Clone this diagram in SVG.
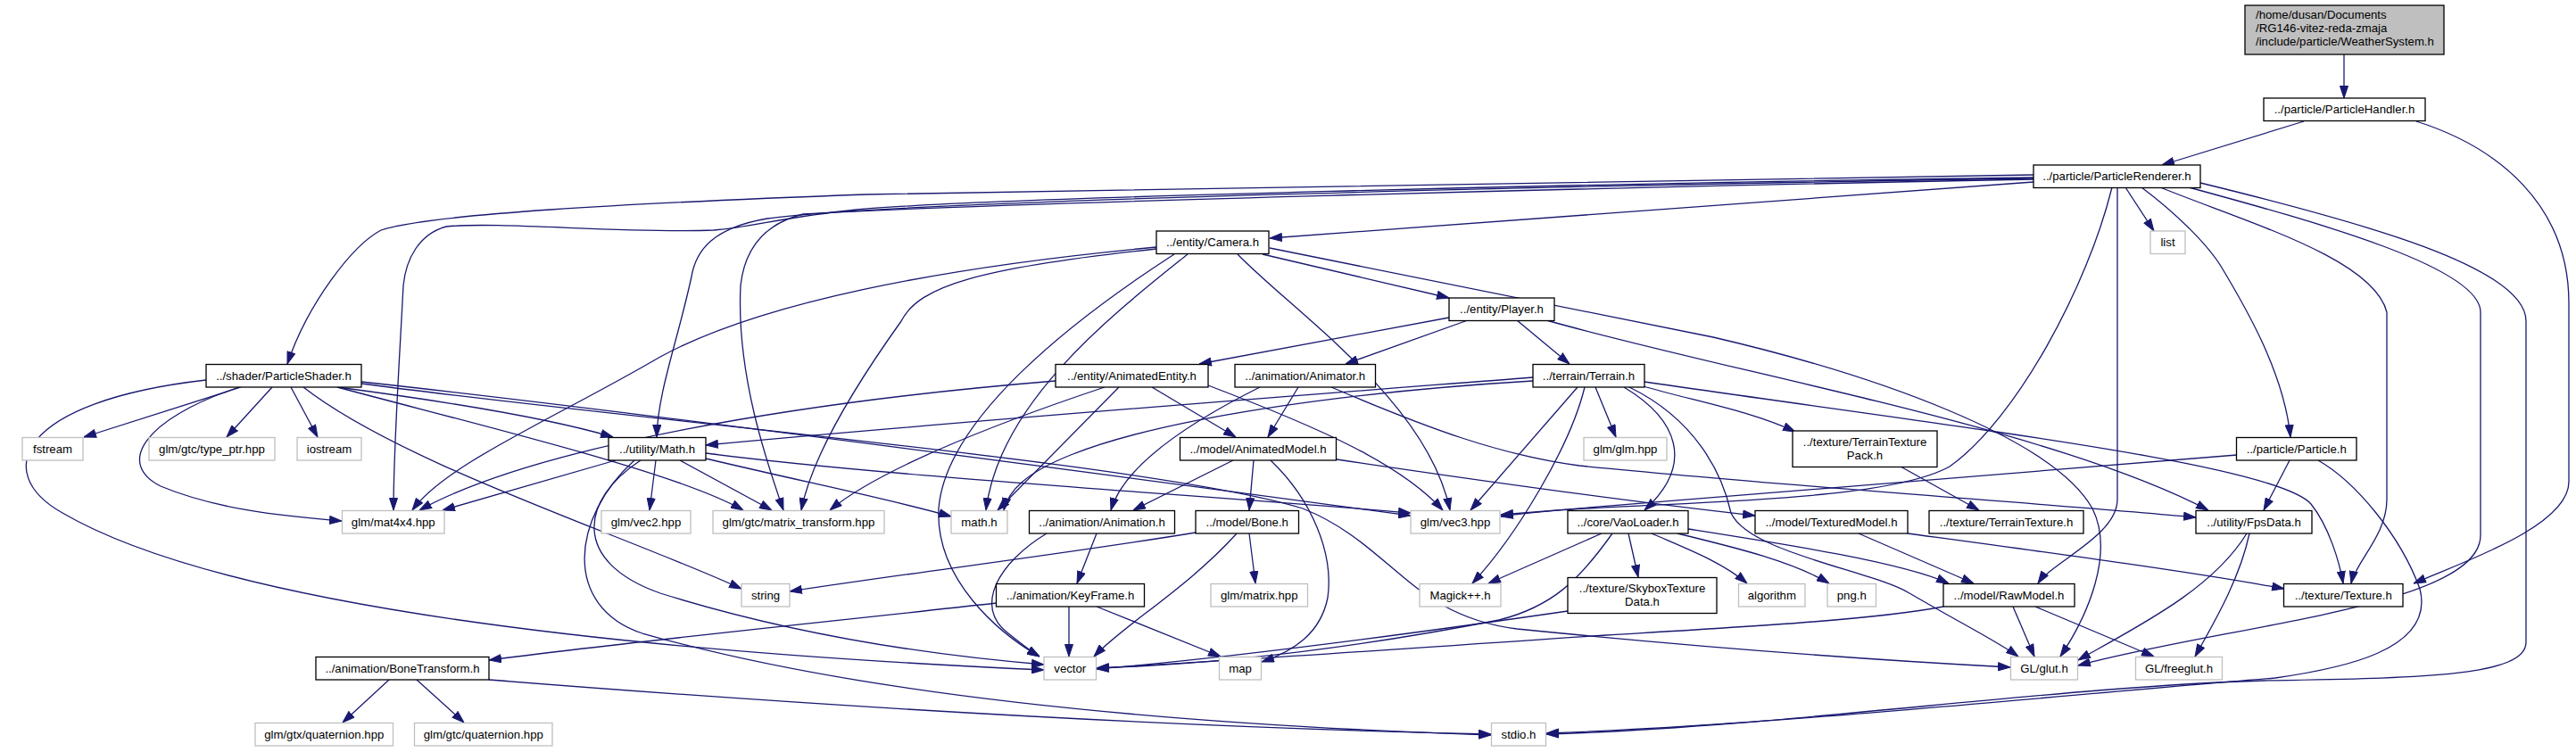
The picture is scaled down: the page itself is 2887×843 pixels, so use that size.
<svg xmlns="http://www.w3.org/2000/svg" width="2887" height="843" viewBox="0 0 2887 843">
<style>
.n rect{fill:#fff;stroke:#000;stroke-width:1.3}
.x rect{fill:#fff;stroke:#bfbfbf;stroke-width:1.3}
.r rect{fill:#bfbfbf;stroke:#000;stroke-width:1.3}
text{font-family:"Liberation Sans",Arial,Helvetica,sans-serif;font-size:13.2px;fill:#000;text-anchor:middle}
.l text{text-anchor:start}
#edges path{fill:none;stroke:#191970;stroke-width:1.3;marker-end:url(#a)}
</style>
<defs>
<marker id="a" markerWidth="14" markerHeight="10" refX="14" refY="5" orient="auto" markerUnits="userSpaceOnUse"><path d="M0.5,0.5 L14,5 L0.5,9.5 z" fill="#191970" stroke="#191970" stroke-width="1"/></marker>
</defs>
<rect width="2887" height="843" fill="#fff"/>
<g id="edges">
<path d="M2627,61 L2627,110"/>
<path d="M2582,136 L2423,185"/>
<path d="M2708,136 C2800,165 2879,230 2879,340 L2879,540 C2879,590 2760,630 2705,654"/>
<path d="M2279,204 L1423,267"/>
<path d="M2382,210 L2414,259"/>
<path d="M2279,196 L970,218 C700,228 480,240 427,258 C395,275 345,340 322,408"/>
<path d="M2279,199 C1800,205 1100,222 960,235 C880,243 840,255 800,258 C700,262 560,248 500,254 C470,262 455,290 452,320 C448,400 441,500 441,572"/>
<path d="M2279,200 C1800,207 1000,225 860,245 C800,255 780,280 775,310 C760,380 737,440 736,490"/>
<path d="M2279,201 C1800,210 1100,228 900,240 C860,250 835,275 830,320 C825,420 860,520 878,572"/>
<path d="M2367,210 C2340,320 2260,470 2185,523 C2100,570 1800,560 1682,579"/>
<path d="M2373,210 L2373,560 C2373,600 2300,630 2284,654"/>
<path d="M2400,210 C2440,240 2475,275 2490,300 C2520,350 2560,420 2567,490"/>
<path d="M2421,210 C2520,250 2660,290 2675,350 L2675,560 C2675,600 2640,630 2635,654"/>
<path d="M2453,210 C2600,250 2780,300 2780,350 L2780,600 C2780,680 2500,700 2329,746"/>
<path d="M2466,205 C2650,250 2831,300 2831,360 L2831,720 C2831,760 2700,760 2537,763 C2300,770 2000,815 1733,823"/>
<path d="M2598,516 C2640,540 2690,600 2712,660 C2730,730 2620,750 2550,760 C2300,780 2000,812 1733,822"/>
<path d="M2507,510 C2200,535 1900,560 1682,577"/>
<path d="M2566,516 L2537,572"/>
<path d="M1415,285 L1624,334"/>
<path d="M1296,277 C1050,300 850,340 740,400 C620,470 500,520 462,572"/>
<path d="M1296,279 C1100,300 1030,320 1010,360 C960,430 910,510 898,572"/>
<path d="M1331,285 C1250,350 1120,450 1105,572"/>
<path d="M1316,285 C1200,360 1060,470 1052,570 C1048,650 1120,710 1165,736"/>
<path d="M1387,285 C1450,350 1600,450 1625,572"/>
<path d="M1423,278 L1920,378 C2100,420 2300,490 2345,570 C2370,620 2340,690 2309,736"/>
<path d="M270,434 L94,490"/>
<path d="M305,434 L254,490"/>
<path d="M326,434 L356,490"/>
<path d="M378,434 C500,450 620,470 687,490"/>
<path d="M268,434 C160,470 130,520 180,545 C240,570 310,578 383,584"/>
<path d="M378,434 C550,480 760,530 833,572"/>
<path d="M340,434 C450,520 700,600 831,660"/>
<path d="M231,426 C20,450 -10,530 70,575 C250,680 700,730 1170,751"/>
<path d="M405,428 C700,460 1300,540 1581,578"/>
<path d="M405,430 C700,470 1300,520 1460,570 C1560,610 1580,690 1700,705 C1900,725 2100,740 2253,748"/>
<path d="M690,516 L496,572"/>
<path d="M735,516 L728,572"/>
<path d="M762,516 L865,572"/>
<path d="M791,514 C900,540 1000,560 1066,579"/>
<path d="M791,508 C1000,535 1350,555 1581,575"/>
<path d="M718,516 C650,560 640,630 740,665 C900,715 1050,735 1170,745"/>
<path d="M711,516 C640,580 630,680 720,710 C1000,790 1400,815 1671,824"/>
<path d="M1624,356 L1344,408"/>
<path d="M1645,359 L1508,408"/>
<path d="M1700,359 L1759,408"/>
<path d="M1733,359 C1950,420 2300,480 2475,572"/>
<path d="M1291,434 L1385,490"/>
<path d="M1183,427 C900,450 600,500 470,572"/>
<path d="M1238,434 C1100,480 980,530 930,572"/>
<path d="M1254,434 L1118,572"/>
<path d="M1354,432 C1480,480 1570,520 1617,572"/>
<path d="M1455,434 L1421,490"/>
<path d="M1412,434 C1340,470 1260,520 1245,572"/>
<path d="M1492,434 C1600,480 1680,510 1770,522 C2000,545 2300,565 2461,580"/>
<path d="M1718,423 C1500,440 1100,470 791,499"/>
<path d="M1718,427 C1500,440 1300,470 1200,510 C1150,530 1130,550 1125,572"/>
<path d="M1768,434 L1648,572"/>
<path d="M1776,434 C1760,500 1700,600 1650,654"/>
<path d="M1788,434 L1811,490"/>
<path d="M1820,434 C1880,470 1900,520 1843,572"/>
<path d="M1838,432 C1900,450 1960,460 2012,484"/>
<path d="M1843,428 C2200,480 2550,520 2590,565 C2610,590 2622,630 2626,654"/>
<path d="M1826,434 C1900,470 1930,530 1940,575 C1960,620 2100,640 2140,665 C2200,700 2240,720 2262,736"/>
<path d="M1382,516 L1270,572"/>
<path d="M1405,516 L1400,572"/>
<path d="M1424,516 C1470,560 1495,620 1488,670 C1480,710 1450,730 1414,742"/>
<path d="M1498,515 C1700,545 1850,565 1967,578"/>
<path d="M1229,598 L1207,654"/>
<path d="M1173,598 C1120,630 1090,680 1130,710 C1145,722 1155,730 1165,736"/>
<path d="M1340,597 C1200,620 1000,645 885,663"/>
<path d="M1400,598 L1407,654"/>
<path d="M1386,598 C1330,660 1260,700 1226,736"/>
<path d="M1198,680 L1198,736"/>
<path d="M1229,680 L1368,736"/>
<path d="M1117,676 C900,700 700,720 548,740"/>
<path d="M436,762 L384,810"/>
<path d="M467,762 L520,810"/>
<path d="M548,762 C900,790 1300,815 1671,823"/>
<path d="M1795,598 L1668,654"/>
<path d="M1825,598 L1836,647"/>
<path d="M1851,598 C1890,615 1930,630 1958,654"/>
<path d="M1880,598 C1950,615 2010,630 2050,654"/>
<path d="M1892,593 C2000,610 2130,630 2184,654"/>
<path d="M1807,598 C1770,650 1740,680 1680,695 C1500,730 1350,745 1229,749"/>
<path d="M1757,685 C1550,715 1350,740 1229,750"/>
<path d="M2083,598 L2212,654"/>
<path d="M2138,598 C2300,620 2450,640 2560,660"/>
<path d="M2130,523 L2218,572"/>
<path d="M2178,680 C2100,695 1950,703 1800,712 C1600,725 1400,740 1229,749"/>
<path d="M2256,680 L2280,736"/>
<path d="M2281,680 L2414,736"/>
<path d="M2518,598 C2480,660 2400,700 2329,740"/>
<path d="M2521,598 C2510,650 2480,700 2460,736"/>
</g>
<g id="n_weather" class="r l"><rect x="2516" y="6" width="223" height="55"/><text x="2528" y="21">/home/dusan/Documents</text><text x="2528" y="36">/RG146-vitez-reda-zmaja</text><text x="2528" y="51">/include/particle/WeatherSystem.h</text></g>
<g id="n_particlehandler" class="n"><rect x="2537" y="110" width="181" height="25.5"/><text x="2627.5" y="127.4">../particle/ParticleHandler.h</text></g>
<g id="n_particlerenderer" class="n"><rect x="2279" y="185" width="187" height="25.5"/><text x="2372.5" y="202.4">../particle/ParticleRenderer.h</text></g>
<g id="n_list" class="x"><rect x="2410" y="259" width="39" height="25.5"/><text x="2429.5" y="276.4">list</text></g>
<g id="n_camera" class="n"><rect x="1296" y="259" width="126" height="25.5"/><text x="1359" y="276.4">../entity/Camera.h</text></g>
<g id="n_player" class="n"><rect x="1624" y="334" width="118" height="25.5"/><text x="1683" y="351.4">../entity/Player.h</text></g>
<g id="n_particleshader" class="n"><rect x="231" y="408.5" width="174" height="25.5"/><text x="318" y="425.9">../shader/ParticleShader.h</text></g>
<g id="n_animatedentity" class="n"><rect x="1183" y="408.5" width="171" height="25.5"/><text x="1268.5" y="425.9">../entity/AnimatedEntity.h</text></g>
<g id="n_animator" class="n"><rect x="1384" y="408.5" width="157.5" height="25.5"/><text x="1462.75" y="425.9">../animation/Animator.h</text></g>
<g id="n_terrain" class="n"><rect x="1718" y="408.5" width="125" height="25.5"/><text x="1780.5" y="425.9">../terrain/Terrain.h</text></g>
<g id="n_fstream" class="x"><rect x="25" y="490.5" width="68" height="25.5"/><text x="59" y="507.9">fstream</text></g>
<g id="n_typeptr" class="x"><rect x="167" y="490.5" width="141" height="25.5"/><text x="237.5" y="507.9">glm/gtc/type_ptr.hpp</text></g>
<g id="n_iostream" class="x"><rect x="333" y="490.5" width="72" height="25.5"/><text x="369" y="507.9">iostream</text></g>
<g id="n_math" class="n"><rect x="682" y="490.5" width="109" height="25.5"/><text x="736.5" y="507.9">../utility/Math.h</text></g>
<g id="n_animatedmodel" class="n"><rect x="1322.5" y="490.5" width="175" height="25.5"/><text x="1410" y="507.9">../model/AnimatedModel.h</text></g>
<g id="n_glmhpp" class="x"><rect x="1775" y="490.5" width="93" height="25.5"/><text x="1821.5" y="507.9">glm/glm.hpp</text></g>
<g id="n_terraintexturepack" class="n"><rect x="2009" y="483" width="162" height="40.5"/><text x="2090" y="500">../texture/TerrainTexture</text><text x="2090" y="515">Pack.h</text></g>
<g id="n_particle" class="n"><rect x="2506.5" y="490.5" width="134.5" height="25.5"/><text x="2573.75" y="507.9">../particle/Particle.h</text></g>
<g id="n_mat4x4" class="x"><rect x="383.5" y="572.5" width="114.5" height="25.5"/><text x="440.75" y="589.9">glm/mat4x4.hpp</text></g>
<g id="n_vec2" class="x"><rect x="674" y="572.5" width="100" height="25.5"/><text x="724" y="589.9">glm/vec2.hpp</text></g>
<g id="n_matrixtransform" class="x"><rect x="799" y="572.5" width="192" height="25.5"/><text x="895" y="589.9">glm/gtc/matrix_transform.hpp</text></g>
<g id="n_mathh" class="x"><rect x="1066" y="572.5" width="63" height="25.5"/><text x="1097.5" y="589.9">math.h</text></g>
<g id="n_animation" class="n"><rect x="1153.5" y="572.5" width="163" height="25.5"/><text x="1235" y="589.9">../animation/Animation.h</text></g>
<g id="n_bone" class="n"><rect x="1340" y="572.5" width="115.5" height="25.5"/><text x="1397.75" y="589.9">../model/Bone.h</text></g>
<g id="n_vec3" class="x"><rect x="1581" y="572.5" width="100" height="25.5"/><text x="1631" y="589.9">glm/vec3.hpp</text></g>
<g id="n_vaoloader" class="n"><rect x="1757" y="572.5" width="135" height="25.5"/><text x="1824.5" y="589.9">../core/VaoLoader.h</text></g>
<g id="n_texturedmodel" class="n"><rect x="1967" y="572.5" width="171" height="25.5"/><text x="2052.5" y="589.9">../model/TexturedModel.h</text></g>
<g id="n_terraintexture" class="n"><rect x="2162" y="572.5" width="173" height="25.5"/><text x="2248.5" y="589.9">../texture/TerrainTexture.h</text></g>
<g id="n_fpsdata" class="n"><rect x="2461" y="572.5" width="130" height="25.5"/><text x="2526" y="589.9">../utility/FpsData.h</text></g>
<g id="n_string" class="x"><rect x="831" y="654.5" width="54" height="25.5"/><text x="858" y="671.9">string</text></g>
<g id="n_keyframe" class="n"><rect x="1116.5" y="654.5" width="166" height="25.5"/><text x="1199.5" y="671.9">../animation/KeyFrame.h</text></g>
<g id="n_matrixhpp" class="x"><rect x="1357" y="654.5" width="108.5" height="25.5"/><text x="1411.25" y="671.9">glm/matrix.hpp</text></g>
<g id="n_magick" class="x"><rect x="1591" y="654.5" width="91" height="25.5"/><text x="1636.5" y="671.9">Magick++.h</text></g>
<g id="n_skybox" class="n"><rect x="1757" y="647.5" width="167" height="40"/><text x="1840.5" y="664">../texture/SkyboxTexture</text><text x="1840.5" y="679">Data.h</text></g>
<g id="n_algorithm" class="x"><rect x="1948.5" y="654.5" width="74.5" height="25.5"/><text x="1985.75" y="671.9">algorithm</text></g>
<g id="n_png" class="x"><rect x="2048" y="654.5" width="54.5" height="25.5"/><text x="2075.25" y="671.9">png.h</text></g>
<g id="n_rawmodel" class="n"><rect x="2178" y="654.5" width="147" height="25.5"/><text x="2251.5" y="671.9">../model/RawModel.h</text></g>
<g id="n_texture" class="n"><rect x="2559.5" y="654.5" width="133.5" height="25.5"/><text x="2626.25" y="671.9">../texture/Texture.h</text></g>
<g id="n_bonetransform" class="n"><rect x="354" y="736.5" width="194" height="25.5"/><text x="451" y="753.9">../animation/BoneTransform.h</text></g>
<g id="n_vector" class="x"><rect x="1170" y="736.5" width="58.5" height="25.5"/><text x="1199.25" y="753.9">vector</text></g>
<g id="n_map" class="x"><rect x="1366.5" y="736.5" width="47" height="25.5"/><text x="1390" y="753.9">map</text></g>
<g id="n_glut" class="x"><rect x="2253.5" y="736.5" width="75" height="25.5"/><text x="2291" y="753.9">GL/glut.h</text></g>
<g id="n_freeglut" class="x"><rect x="2393.5" y="736.5" width="97" height="25.5"/><text x="2442" y="753.9">GL/freeglut.h</text></g>
<g id="n_gtxquat" class="x"><rect x="286" y="810.5" width="154.5" height="25.5"/><text x="363.25" y="827.9">glm/gtx/quaternion.hpp</text></g>
<g id="n_gtcquat" class="x"><rect x="464.5" y="810.5" width="154.5" height="25.5"/><text x="541.75" y="827.9">glm/gtc/quaternion.hpp</text></g>
<g id="n_stdio" class="x"><rect x="1671.5" y="810.5" width="61" height="25.5"/><text x="1702" y="827.9">stdio.h</text></g>
</svg>
